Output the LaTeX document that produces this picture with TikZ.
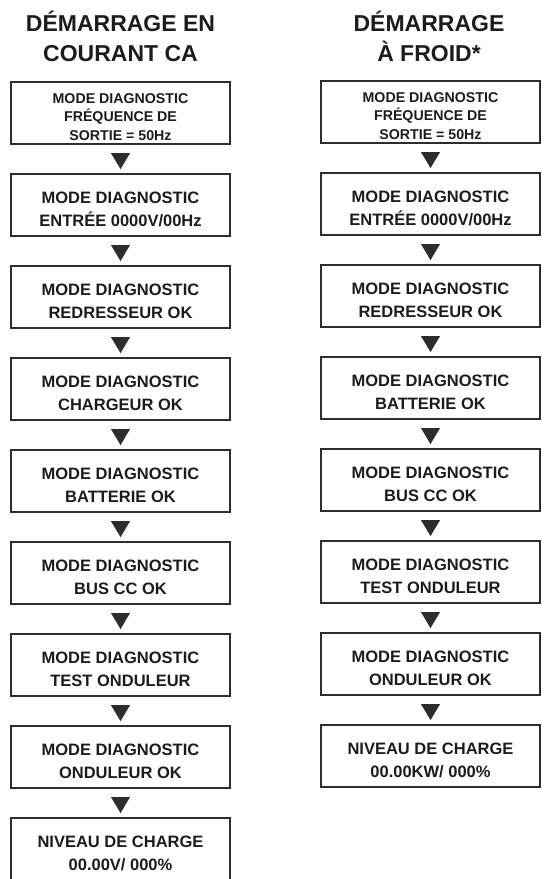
\documentclass[tikz,border=0pt]{standalone}
\usepackage{fontspec}
\setmainfont{Liberation Sans}
\usepackage{tikz}
\usetikzlibrary{arrows.meta,positioning}
\definecolor{ink}{RGB}{28,28,28}
\definecolor{frame}{RGB}{45,45,45}

\tikzset{
  diagbox/.style={draw=frame, line width=2pt, minimum width=219pt, minimum height=62pt,
    align=center, inner sep=0pt, text height=43pt, text depth=0pt, text=ink,
    font=\bfseries\fontsize{16.5}{23}\selectfont},
  smallbox/.style={diagbox, text height=54pt, font=\bfseries\fontsize{14.2}{18.5}\selectfont},
  coltitle/.style={align=center, inner sep=0pt, text=ink, font=\bfseries\fontsize{23}{30}\selectfont},
  flowtip/.style={draw=frame, line width=0.4pt, -{Triangle[length=16pt,width=19pt]},
    shorten <=8pt, shorten >=4pt}
}

\begin{document}
\begin{tikzpicture}[node distance=28pt]
  \useasboundingbox (0,0) rectangle (546pt,-879pt);
  \clip (0,0) rectangle (546pt,-879pt);
  \fill[white] (0,0) rectangle (546pt,-879pt);

  % titles
  \node[coltitle, anchor=north] (catitle) at (120.5pt,-11pt) {DÉMARRAGE EN\\COURANT CA};
  \node[coltitle, anchor=north] (coldtitle) at (429pt,-11pt) {DÉMARRAGE\\À FROID*};

  % left column: demarrage en courant CA
  \node[smallbox] (ca1) at (120.5pt,-113pt) {MODE DIAGNOSTIC\\FRÉQUENCE DE\\SORTIE = 50Hz};
  \node[diagbox, below=of ca1] (ca2) {MODE DIAGNOSTIC\\ENTRÉE 0000V/00Hz};
  \node[diagbox, below=of ca2] (ca3) {MODE DIAGNOSTIC\\REDRESSEUR OK};
  \node[diagbox, below=of ca3] (ca4) {MODE DIAGNOSTIC\\CHARGEUR OK};
  \node[diagbox, below=of ca4] (ca5) {MODE DIAGNOSTIC\\BATTERIE OK};
  \node[diagbox, below=of ca5] (ca6) {MODE DIAGNOSTIC\\BUS CC OK};
  \node[diagbox, below=of ca6] (ca7) {MODE DIAGNOSTIC\\TEST ONDULEUR};
  \node[diagbox, below=of ca7] (ca8) {MODE DIAGNOSTIC\\ONDULEUR OK};
  \node[diagbox, below=of ca8] (ca9) {NIVEAU DE CHARGE\\00.00V/ 000\%};

  % right column: demarrage a froid
  \node[smallbox] (cold1) at (430.5pt,-112pt) {MODE DIAGNOSTIC\\FRÉQUENCE DE\\SORTIE = 50Hz};
  \node[diagbox, below=of cold1] (cold2) {MODE DIAGNOSTIC\\ENTRÉE 0000V/00Hz};
  \node[diagbox, below=of cold2] (cold3) {MODE DIAGNOSTIC\\REDRESSEUR OK};
  \node[diagbox, below=of cold3] (cold4) {MODE DIAGNOSTIC\\BATTERIE OK};
  \node[diagbox, below=of cold4] (cold5) {MODE DIAGNOSTIC\\BUS CC OK};
  \node[diagbox, below=of cold5] (cold6) {MODE DIAGNOSTIC\\TEST ONDULEUR};
  \node[diagbox, below=of cold6] (cold7) {MODE DIAGNOSTIC\\ONDULEUR OK};
  \node[diagbox, below=of cold7] (cold8) {NIVEAU DE CHARGE\\00.00KW/ 000\%};

  % arrows
  \draw[flowtip] (ca1.south) -- (ca2.north);
  \draw[flowtip] (ca2.south) -- (ca3.north);
  \draw[flowtip] (ca3.south) -- (ca4.north);
  \draw[flowtip] (ca4.south) -- (ca5.north);
  \draw[flowtip] (ca5.south) -- (ca6.north);
  \draw[flowtip] (ca6.south) -- (ca7.north);
  \draw[flowtip] (ca7.south) -- (ca8.north);
  \draw[flowtip] (ca8.south) -- (ca9.north);
  \draw[flowtip] (cold1.south) -- (cold2.north);
  \draw[flowtip] (cold2.south) -- (cold3.north);
  \draw[flowtip] (cold3.south) -- (cold4.north);
  \draw[flowtip] (cold4.south) -- (cold5.north);
  \draw[flowtip] (cold5.south) -- (cold6.north);
  \draw[flowtip] (cold6.south) -- (cold7.north);
  \draw[flowtip] (cold7.south) -- (cold8.north);
\end{tikzpicture}
\end{document}
